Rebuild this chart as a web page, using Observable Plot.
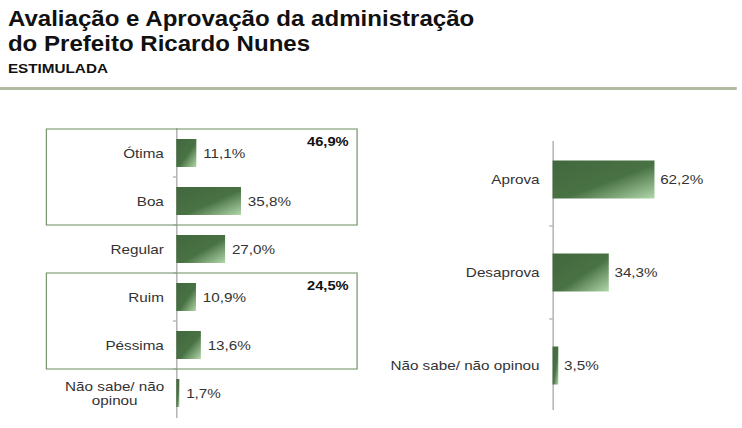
<!DOCTYPE html>
<html>
<head>
<meta charset="utf-8">
<script src="https://cdn.jsdelivr.net/npm/d3@7"></script>
<script src="https://cdn.jsdelivr.net/npm/@observablehq/plot@0.6"></script>
<style>
  html, body { margin: 0; padding: 0; background: #fff; overflow: hidden; }
  #page { position: relative; width: 657px; height: 428px; transform: scaleX(1.13); transform-origin: 0 0; font-family: "Liberation Sans", Arial, sans-serif; }
  .title { position: absolute; left: 7px; top: 7px; font-size: 21.3px; line-height: 25px; font-weight: bold; color: #111; white-space: nowrap; }
  .sub { position: absolute; left: 7px; top: 61px; font-size: 13.5px; line-height: 15px; font-weight: bold; color: #111; }
  .sep { position: absolute; left: 0; top: 87px; width: 652px; height: 3px; background: #b3baa3; }
  #left { position: absolute; left: 0; top: 100px; }
  #right { position: absolute; left: 336px; top: 100px; }
</style>
</head>
<body>
<svg width="0" height="0" style="position:absolute">
  <defs>
    <linearGradient id="barGrad" x1="0" y1="0" x2="1" y2="1">
      <stop offset="0" stop-color="#42673d"/>
      <stop offset="0.55" stop-color="#497244"/>
      <stop offset="1" stop-color="#b2d8aa"/>
    </linearGradient>
  </defs>
</svg>
<div id="page">
  <div class="title">Avaliação e Aprovação da administração<br>do Prefeito Ricardo Nunes</div>
  <div class="sub">ESTIMULADA</div>
  <div class="sep"></div>
  <div id="left"></div>
  <div id="right"></div>
</div>
<script>
// ---- data ----
const avalCategories = ["Ótima", "Boa", "Regular", "Ruim", "Péssima", "Não sabe/ não\nopinou"];
const avalValues = [11.1, 35.8, 27.0, 10.9, 13.6, 1.7];
const groupLabels = ["46,9%", "24,5%"];
const groupFirst = ["Ótima", "Ruim"];
const groupLast = ["Boa", "Péssima"];

const aprovCategories = ["Aprova", "Desaprova", "Não sabe/ não opinou"];
const aprovValues = [62.2, 34.3, 3.5];

const fmt = v => d3.format(".1f")(v).replace(".", ",") + "%";
const avalData = avalCategories.map((c, i) => ({cat: c, v: avalValues[i]}));
const aprovData = aprovCategories.map((c, i) => ({cat: c, v: aprovValues[i]}));
const groups = groupLabels.map((l, i) => ({label: l, first: groupFirst[i], last: groupLast[i]}));

const FONT = "Liberation Sans, Arial, sans-serif";
const TXT = "#333333";
const FS = 13.5;

// ---- left chart ----
const left = Plot.plot({
  width: 336, height: 328,
  marginLeft: 156, marginRight: 20, marginTop: 27, marginBottom: 10,
  style: {fontFamily: FONT, background: "transparent", overflow: "visible"},
  x: {domain: [0, 100], axis: null},
  y: {domain: avalCategories, axis: null, padding: 0},
  marks: [
    Plot.ruleX([0], {stroke: "#9a9a9a", strokeWidth: 1, insetTop: 1}),
    Plot.barX(avalData, {x: "v", y: "cat", fill: "url(#barGrad)", insetTop: 10, insetBottom: 10}),
    Plot.text(avalData, {x: "v", y: "cat", text: d => fmt(d.v), textAnchor: "start", dx: 5.5, fontSize: FS, fill: TXT}),
    Plot.text(avalData.filter(d => !d.cat.includes("\n")), {y: "cat", text: "cat", frameAnchor: "left", textAnchor: "end", dx: -11.5, fontSize: FS, fill: TXT}),
    Plot.text(avalData.filter(d => d.cat.includes("\n")), {y: "cat", text: "cat", frameAnchor: "left", textAnchor: "middle", dx: -55, fontSize: FS, lineHeight: 1.02, fill: TXT}),
    Plot.text(groups, {y: "first", text: "label", frameAnchor: "right", textAnchor: "end", dx: -8, dy: -12, fontSize: 13, fontWeight: "bold", fill: "#111"})
  ]
});
document.getElementById("left").appendChild(left);

// boxes + small ticks drawn from the plot's scales
(function() {
  const ys = left.scale("y"), xs = left.scale("x");
  const bw = ys.bandwidth;
  const x0 = xs.apply(0);
  const svg = d3.select(left);
  groups.forEach(g => {
    const top = ys.apply(g.first), bottom = ys.apply(g.last) + bw;
    svg.append("rect")
      .attr("x", x0 - 115).attr("y", top)
      .attr("width", xs.apply(100) - (x0 - 115)).attr("height", bottom - top)
      .attr("fill", "none").attr("stroke", "#6d8d5f").attr("stroke-width", 1);
  });
  avalCategories.slice(1).forEach(c => {
    const y = ys.apply(c);
    svg.append("line").attr("x1", x0 - 3).attr("x2", x0).attr("y1", y).attr("y2", y)
      .attr("stroke", "#9a9a9a");
  });
})();

// ---- right chart ----
const right = Plot.plot({
  width: 320, height: 328,
  marginLeft: 153, marginRight: 22, marginTop: 32, marginBottom: 15,
  style: {fontFamily: FONT, background: "transparent", overflow: "visible"},
  x: {domain: [0, 100], axis: null},
  y: {domain: aprovCategories, axis: null, padding: 0},
  marks: [
    Plot.ruleX([0], {stroke: "#9a9a9a", strokeWidth: 1, insetTop: 9, insetBottom: 3}),
    Plot.barX(aprovData, {x: "v", y: "cat", fill: "url(#barGrad)", insetTop: 27.5, insetBottom: 27.5}),
    Plot.text(aprovData, {x: "v", y: "cat", text: d => fmt(d.v), textAnchor: "start", dx: 4.5, fontSize: FS, fill: TXT}),
    Plot.text(aprovData, {y: "cat", text: "cat", frameAnchor: "left", textAnchor: "end", dx: -12, fontSize: FS, fill: TXT})
  ]
});
document.getElementById("right").appendChild(right);

(function() {
  const ys = right.scale("y"), xs = right.scale("x");
  const x0 = xs.apply(0);
  const svg = d3.select(right);
  aprovCategories.slice(1).forEach(c => {
    const y = ys.apply(c);
    svg.append("line").attr("x1", x0 - 3).attr("x2", x0).attr("y1", y).attr("y2", y)
      .attr("stroke", "#9a9a9a");
  });
})();
</script>
</body>
</html>
